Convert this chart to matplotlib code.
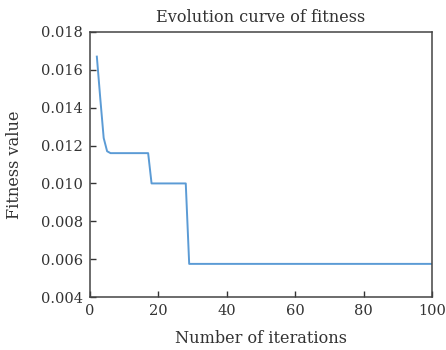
import matplotlib
matplotlib.use("Agg")
import matplotlib.pyplot as plt

# fitness per iteration (breakpoints)
iterations = [2, 3, 4, 5, 6, 17, 18, 28, 29, 100]
fitness = [0.0167, 0.0145, 0.0124, 0.0117, 0.0116, 0.0116, 0.0100, 0.0100, 0.00575, 0.00575]

x_ticks = [0, 20, 40, 60, 80, 100]
y_ticks = [0.004, 0.006, 0.008, 0.010, 0.012, 0.014, 0.016, 0.018]

plt.rcParams['font.family'] = ['DejaVu Serif']

fig = plt.figure(figsize=(4.46, 3.5), dpi=100)
ax = fig.add_axes([0.2018, 0.1514, 0.7668, 0.7572])

ax.plot(iterations, fitness, color='#5b9bd5', linewidth=1.4)

ax.set_xlim(0, 100)
ax.set_ylim(0.004, 0.018)
ax.set_xticks(x_ticks)
ax.set_yticks(y_ticks)
ax.set_yticklabels(['%.3f' % v for v in y_ticks])
ax.tick_params(direction='in', length=4, width=1, colors='#333333', labelsize=10.5,
               top=False, right=False, pad=5)
for s in ax.spines.values():
    s.set_color('#444444')
    s.set_linewidth(1.1)

ax.set_title('Evolution curve of fitness', fontsize=11.6, color='#333333', pad=7)
ax.set_xlabel('Number of iterations', fontsize=11.6, color='#333333', labelpad=9)
ax.set_ylabel('Fitness value', fontsize=11.6, color='#333333', labelpad=13)

fig.savefig('out.png', dpi=100)
